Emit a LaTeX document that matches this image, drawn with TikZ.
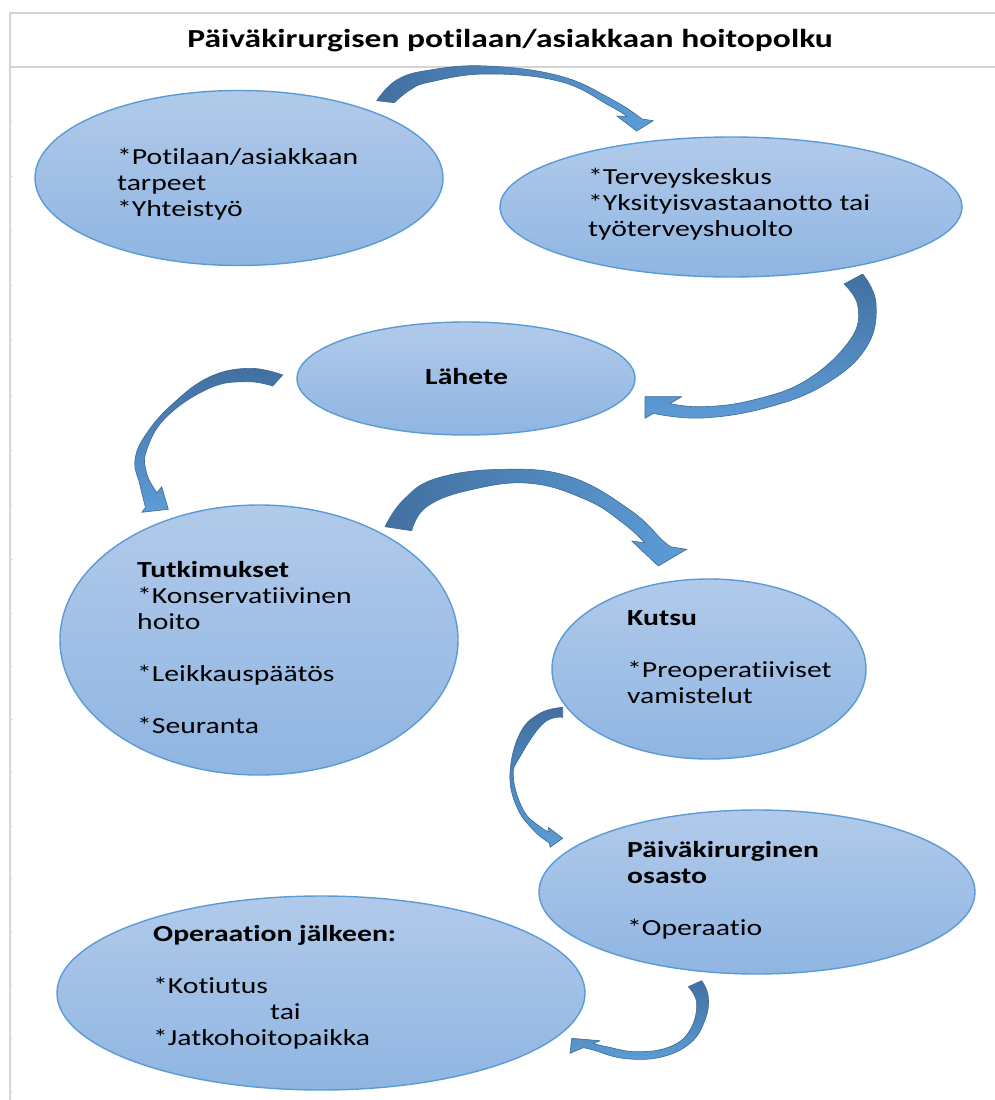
\documentclass[tikz,border=0pt]{standalone}
\usepackage{fontspec}
\setmainfont[FakeStretch=1.29, Ligatures=NoCommon]{Carlito}
\usetikzlibrary{shapes.geometric}
\definecolor{ellTop}{RGB}{177,202,234}
\definecolor{ellBot}{RGB}{143,181,226}
\definecolor{ellLine}{RGB}{91,155,213}
\definecolor{arrDark}{RGB}{66,112,160}
\definecolor{arrLight}{RGB}{93,156,214}
\definecolor{arrLine}{RGB}{60,105,150}
\definecolor{frameGray}{RGB}{212,212,212}
\newcommand\lh{\rule{0pt}{18pt}}
\tikzset{
  bubble/.style={ellipse, draw=ellLine, line width=1.4pt, top color=ellTop, bottom color=ellBot, inner sep=0pt},
  txt/.style={anchor=north west, align=left, inner sep=0pt, font=\fontsize{23}{26}\selectfont},
  blockarrow/.style={draw=arrLine, line width=0.6pt, line join=round},
  horiz/.style={blockarrow, left color=arrDark, right color=arrLight},
  vert/.style={blockarrow, top color=arrDark, bottom color=arrLight},
  framerule/.style={draw=frameGray, line width=2pt},
}
\begin{document}
\begin{tikzpicture}[x=1pt, y=-1pt]
\useasboundingbox (0,0) rectangle (995,1100);
\fill[white] (0,0) rectangle (995,1100);
% frame
\draw[framerule] (995,12.5) -- (9.5,12.5) -- (9.5,1100);
\draw[framerule] (9.5,66.5) -- (995,66.5);
\foreach \yy in {121.7,176.7,230.7,285.7,340.7,395.7,450,505,559,613,666,719,772,826,878,932,985,1038,1091}
  \draw[frameGray!70, line width=0.6pt] (9.5,\yy) -- (12.5,\yy);
\node[font=\bfseries\fontsize{26}{30}\selectfont, inner sep=0pt] (title) at (510,41) {Päiväkirurgisen potilaan/asiakkaan hoitopolku};

% ellipses
\node[bubble, minimum width=408pt, minimum height=175pt] (e1) at (239,178) {};
\node[bubble, minimum width=462pt, minimum height=140pt] (e2) at (731,207) {};
\node[bubble, minimum width=338pt, minimum height=113pt] (e3) at (466,378.5) {};
\node[bubble, minimum width=398pt, minimum height=270pt] (e4) at (259,640) {};
\node[bubble, minimum width=314pt, minimum height=180pt] (e5) at (709,669) {};
\node[bubble, minimum width=436pt, minimum height=164pt] (e6) at (757,892) {};
\node[bubble, minimum width=528pt, minimum height=194pt] (e7) at (321,993) {};

% texts
\node[txt] (t1) at (117,146) {\lh*Potilaan/asiakkaan\\tarpeet\\*Yhteistyö};
\node[txt] (t2) at (588,166) {\lh*Terveyskeskus\\*Yksityisvastaanotto tai\\työterveyshuolto};
\node[txt] (t3) at (425,366) {\lh\textbf{Lähete}};
\node[txt] (t4) at (137,559) {\lh\textbf{Tutkimukset}\\*Konservatiivinen\\hoito\\[26pt]*Leikkauspäätös\\[26pt]*Seuranta};
\node[txt] (t5) at (627,607) {\lh\textbf{Kutsu}\\[26pt]*Preoperatiiviset\\vamistelut};
\node[txt] (t6) at (627,839) {\lh\textbf{Päiväkirurginen}\\\textbf{osasto}\\[26pt]*Operaatio};
\node[txt] (t7) at (153,923) {\lh\textbf{Operaation jälkeen:}\\[26pt]*Kotiutus\\\hspace*{117pt}tai\\*Jatkohoitopaikka};

% block arrows
% e1 -> e2
\path[horiz]
  plot[smooth, tension=0.7] coordinates {(376.7,100.7) (396.7,80) (430,70) (486.7,66) (560,76) (613,100) (642,119)}
  -- (653.3,120.7) -- (636.7,131) -- (616.7,116)
  -- plot[smooth, tension=0.7] coordinates {(627,116.5) (610,106) (560,81.5) (486.7,74) (430,82) (410,90) (394.3,102.7)}
  -- cycle;
% e2 -> e3
\path[vert]
  plot[smooth, tension=0.7] coordinates {(862.7,274) (876,303.3) (866.7,346.7) (826.7,383.3) (770,406.7) (703,418) (653.3,413.4)}
  -- (645,418.3) -- (645,396.7) -- (681.7,396.7)
  -- plot[smooth, tension=0.7] coordinates {(670,403.6) (703,406.7) (753,400) (806.7,380) (850,340) (858,306.7) (844,284)}
  -- cycle;
% e3 -> e4
\path[vert]
  plot[smooth, tension=0.7] coordinates {(282.7,375) (250,368.3) (210,376.7) (173.3,403.3) (146.7,433.3) (135,460) (140,485) (145.5,507.5)}
  -- (141.7,512.3) -- (168.3,509.3) -- (161.7,486.7)
  -- plot[smooth, tension=0.7] coordinates {(157,492.7) (146.7,473.3) (146.7,450) (166.7,416.7) (210,388) (246.7,381.7) (272.7,386)}
  -- cycle;
% e4 -> e5
\path[horiz]
  plot[smooth, tension=0.7] coordinates {(385,526.7) (403.3,500) (436.7,478.3) (503.3,469.3) (570,476.7) (630,510) (663.3,541) (672,547)}
  -- (686.7,549.3) -- (658.3,566) -- (631.7,541)
  -- plot[smooth, tension=0.7] coordinates {(645,543) (623.3,523.3) (586.7,500) (530,483.3) (470,490) (426.7,506.7) (411.7,530.7)}
  -- cycle;
% e5 -> e6
\path[vert]
  plot[smooth, tension=0.7] coordinates {(562.7,707.3) (540,713.3) (520,733.3) (510,773.3) (516.7,806.7) (533.3,830) (549.5,843)}
  -- (550,847.3) -- (562.7,838.3) -- (548.3,827.3)
  -- plot[smooth, tension=0.7] coordinates {(549,831.5) (540,826.7) (523.3,810) (513.3,776.7) (520,756.7) (543.3,723.3) (562.7,717.3)}
  -- cycle;
% e6 -> e7
\path[vert]
  plot[smooth, tension=0.7] coordinates {(701.7,980.7) (708.3,996.7) (705,1020) (690,1043.3) (660,1057.3) (623.3,1058.3) (593.3,1050) (583.3,1047.7)}
  -- (570,1053.3) -- (571.7,1038.3) -- (600,1040.7)
  -- plot[smooth, tension=0.7] coordinates {(593.3,1043.5) (606.7,1046.7) (636.7,1051.7) (670,1046.7) (690,1030) (696.7,1003.3) (688.3,986.7)}
  -- cycle;
\end{tikzpicture}
\end{document}
